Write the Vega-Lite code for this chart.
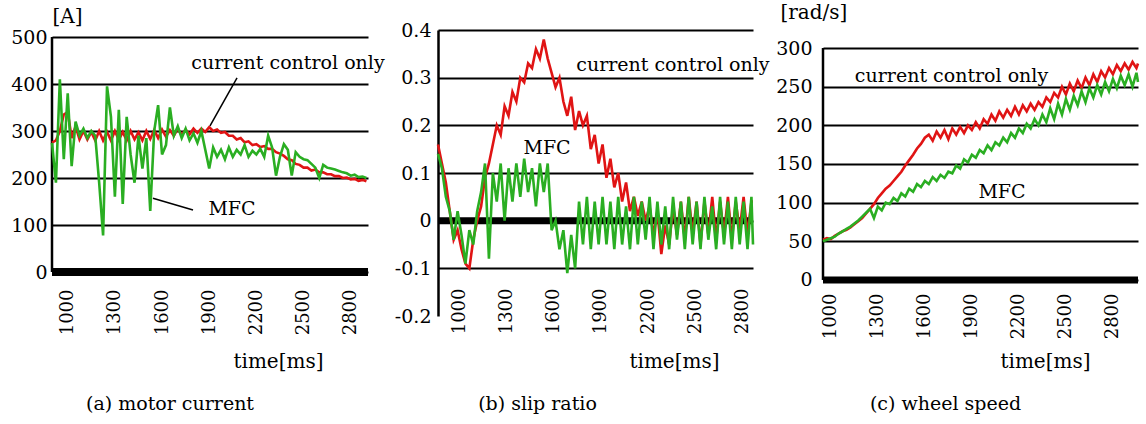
{
  "$schema": "https://vega.github.io/schema/vega-lite/v6.json",
  "autosize": {"type": "pad"},
  "padding": {"left": 10, "top": 2, "right": 8, "bottom": 2},
  "bounds": "flush",
  "spacing": 70,
  "datasets": {
    "current": [
      {"t":900,"cc":275,"mfc":275},{"t":925,"cc":280,"mfc":190},{"t":950,"cc":300,"mfc":410},{"t":975,"cc":335,"mfc":240},{"t":1000,"cc":340,"mfc":380},{"t":1025,"cc":285,"mfc":225},{"t":1050,"cc":310,"mfc":320},{"t":1075,"cc":282,"mfc":290},{"t":1100,"cc":300,"mfc":305},{"t":1125,"cc":282,"mfc":285},{"t":1150,"cc":298,"mfc":300},{"t":1175,"cc":280,"mfc":290},{"t":1200,"cc":300,"mfc":190},{"t":1225,"cc":280,"mfc":78},{"t":1250,"cc":298,"mfc":395},{"t":1275,"cc":280,"mfc":330},{"t":1300,"cc":300,"mfc":160},{"t":1325,"cc":281,"mfc":345},{"t":1350,"cc":298,"mfc":145},{"t":1375,"cc":280,"mfc":330},{"t":1400,"cc":300,"mfc":250},{"t":1425,"cc":282,"mfc":190},{"t":1450,"cc":297,"mfc":290},{"t":1475,"cc":280,"mfc":220},{"t":1500,"cc":300,"mfc":285},{"t":1525,"cc":283,"mfc":130},{"t":1550,"cc":302,"mfc":300},{"t":1575,"cc":285,"mfc":355},{"t":1600,"cc":303,"mfc":250},{"t":1625,"cc":288,"mfc":270},{"t":1650,"cc":302,"mfc":350},{"t":1675,"cc":290,"mfc":290},{"t":1700,"cc":305,"mfc":310},{"t":1725,"cc":292,"mfc":285},{"t":1750,"cc":303,"mfc":305},{"t":1775,"cc":293,"mfc":280},{"t":1800,"cc":305,"mfc":295},{"t":1825,"cc":296,"mfc":275},{"t":1850,"cc":305,"mfc":300},{"t":1875,"cc":298,"mfc":260},{"t":1900,"cc":308,"mfc":220},{"t":1925,"cc":300,"mfc":265},{"t":1950,"cc":303,"mfc":245},{"t":1975,"cc":296,"mfc":260},{"t":2000,"cc":298,"mfc":240},{"t":2025,"cc":290,"mfc":265},{"t":2050,"cc":290,"mfc":245},{"t":2075,"cc":282,"mfc":260},{"t":2100,"cc":285,"mfc":250},{"t":2125,"cc":276,"mfc":270},{"t":2150,"cc":278,"mfc":245},{"t":2175,"cc":270,"mfc":258},{"t":2200,"cc":272,"mfc":250},{"t":2225,"cc":266,"mfc":262},{"t":2250,"cc":268,"mfc":245},{"t":2275,"cc":262,"mfc":290},{"t":2300,"cc":262,"mfc":265},{"t":2325,"cc":255,"mfc":205},{"t":2350,"cc":252,"mfc":245},{"t":2375,"cc":247,"mfc":272},{"t":2400,"cc":240,"mfc":260},{"t":2425,"cc":238,"mfc":205},{"t":2450,"cc":230,"mfc":255},{"t":2475,"cc":228,"mfc":245},{"t":2500,"cc":222,"mfc":240},{"t":2525,"cc":222,"mfc":238},{"t":2550,"cc":216,"mfc":230},{"t":2575,"cc":218,"mfc":222},{"t":2600,"cc":212,"mfc":200},{"t":2625,"cc":212,"mfc":228},{"t":2650,"cc":208,"mfc":222},{"t":2675,"cc":208,"mfc":220},{"t":2700,"cc":204,"mfc":218},{"t":2725,"cc":204,"mfc":215},{"t":2750,"cc":200,"mfc":212},{"t":2775,"cc":201,"mfc":210},{"t":2800,"cc":197,"mfc":205},{"t":2825,"cc":198,"mfc":207},{"t":2850,"cc":194,"mfc":202},{"t":2875,"cc":196,"mfc":203},{"t":2900,"cc":193,"mfc":200}
    ],
    "slip": [
      {"t":860,"cc":0.16,"mfc":0.14},{"t":885,"cc":0.12,"mfc":0.11},{"t":910,"cc":0.08,"mfc":0.05},{"t":935,"cc":0.02,"mfc":0.02},{"t":960,"cc":-0.04,"mfc":-0.04},{"t":985,"cc":-0.02,"mfc":0.02},{"t":1010,"cc":-0.06,"mfc":-0.03},{"t":1035,"cc":-0.09,"mfc":-0.09},{"t":1060,"cc":-0.10,"mfc":-0.02},{"t":1085,"cc":-0.04,"mfc":-0.05},{"t":1110,"cc":0.0,"mfc":0.02},{"t":1135,"cc":0.03,"mfc":0.06},{"t":1160,"cc":0.09,"mfc":0.12},{"t":1185,"cc":0.12,"mfc":-0.08},{"t":1210,"cc":0.16,"mfc":0.10},{"t":1235,"cc":0.20,"mfc":0.04},{"t":1260,"cc":0.18,"mfc":0.12},{"t":1285,"cc":0.24,"mfc":0.0},{"t":1310,"cc":0.22,"mfc":0.11},{"t":1335,"cc":0.27,"mfc":0.04},{"t":1360,"cc":0.25,"mfc":0.12},{"t":1385,"cc":0.30,"mfc":0.05},{"t":1410,"cc":0.29,"mfc":0.13},{"t":1435,"cc":0.33,"mfc":0.06},{"t":1460,"cc":0.32,"mfc":0.11},{"t":1485,"cc":0.36,"mfc":0.03},{"t":1510,"cc":0.34,"mfc":0.12},{"t":1535,"cc":0.38,"mfc":0.06},{"t":1560,"cc":0.34,"mfc":0.12},{"t":1585,"cc":0.31,"mfc":-0.02},{"t":1610,"cc":0.28,"mfc":0.0},{"t":1635,"cc":0.30,"mfc":-0.06},{"t":1660,"cc":0.25,"mfc":-0.02},{"t":1685,"cc":0.22,"mfc":-0.11},{"t":1710,"cc":0.26,"mfc":-0.03},{"t":1735,"cc":0.19,"mfc":-0.10},{"t":1760,"cc":0.23,"mfc":0.04},{"t":1785,"cc":0.20,"mfc":-0.05},{"t":1810,"cc":0.22,"mfc":0.05},{"t":1835,"cc":0.15,"mfc":-0.06},{"t":1860,"cc":0.18,"mfc":0.04},{"t":1885,"cc":0.12,"mfc":-0.05},{"t":1910,"cc":0.16,"mfc":0.05},{"t":1935,"cc":0.09,"mfc":-0.05},{"t":1960,"cc":0.13,"mfc":0.04},{"t":1985,"cc":0.07,"mfc":-0.06},{"t":2010,"cc":0.10,"mfc":0.05},{"t":2035,"cc":0.04,"mfc":-0.05},{"t":2060,"cc":0.08,"mfc":0.03},{"t":2085,"cc":0.02,"mfc":-0.06},{"t":2110,"cc":0.05,"mfc":0.05},{"t":2135,"cc":0.01,"mfc":-0.05},{"t":2160,"cc":0.04,"mfc":0.04},{"t":2185,"cc":0.0,"mfc":-0.04},{"t":2210,"cc":0.03,"mfc":0.05},{"t":2235,"cc":-0.03,"mfc":-0.06},{"t":2260,"cc":0.02,"mfc":0.04},{"t":2285,"cc":-0.07,"mfc":-0.05},{"t":2310,"cc":-0.01,"mfc":0.03},{"t":2335,"cc":-0.05,"mfc":-0.06},{"t":2360,"cc":0.03,"mfc":0.05},{"t":2385,"cc":-0.03,"mfc":-0.04},{"t":2410,"cc":0.04,"mfc":0.04},{"t":2435,"cc":-0.04,"mfc":-0.06},{"t":2460,"cc":0.05,"mfc":0.05},{"t":2485,"cc":-0.03,"mfc":-0.05},{"t":2510,"cc":0.04,"mfc":0.04},{"t":2535,"cc":-0.05,"mfc":-0.06},{"t":2560,"cc":0.04,"mfc":0.05},{"t":2585,"cc":-0.03,"mfc":-0.04},{"t":2610,"cc":0.05,"mfc":0.03},{"t":2635,"cc":-0.04,"mfc":-0.06},{"t":2660,"cc":0.04,"mfc":0.05},{"t":2685,"cc":-0.03,"mfc":-0.05},{"t":2710,"cc":0.05,"mfc":0.04},{"t":2735,"cc":-0.04,"mfc":-0.06},{"t":2760,"cc":0.04,"mfc":0.05},{"t":2785,"cc":-0.02,"mfc":-0.05},{"t":2810,"cc":0.05,"mfc":0.04},{"t":2835,"cc":-0.03,"mfc":-0.06},{"t":2860,"cc":0.04,"mfc":0.05},{"t":2870,"cc":0.04,"mfc":-0.05}
    ],
    "speed": [
      {"t":950,"cc":52,"mfc":50},{"t":975,"cc":54,"mfc":52},{"t":1000,"cc":53,"mfc":54},{"t":1025,"cc":57,"mfc":56},{"t":1050,"cc":60,"mfc":60},{"t":1075,"cc":63,"mfc":63},{"t":1100,"cc":65,"mfc":66},{"t":1125,"cc":68,"mfc":69},{"t":1150,"cc":72,"mfc":73},{"t":1175,"cc":76,"mfc":77},{"t":1200,"cc":80,"mfc":82},{"t":1225,"cc":86,"mfc":87},{"t":1250,"cc":92,"mfc":92},{"t":1275,"cc":98,"mfc":80},{"t":1300,"cc":106,"mfc":95},{"t":1325,"cc":112,"mfc":90},{"t":1350,"cc":118,"mfc":100},{"t":1375,"cc":122,"mfc":98},{"t":1400,"cc":128,"mfc":106},{"t":1425,"cc":134,"mfc":102},{"t":1450,"cc":140,"mfc":112},{"t":1475,"cc":148,"mfc":108},{"t":1500,"cc":155,"mfc":118},{"t":1525,"cc":162,"mfc":114},{"t":1550,"cc":170,"mfc":124},{"t":1575,"cc":176,"mfc":120},{"t":1600,"cc":184,"mfc":128},{"t":1625,"cc":188,"mfc":124},{"t":1650,"cc":180,"mfc":133},{"t":1675,"cc":192,"mfc":128},{"t":1700,"cc":184,"mfc":136},{"t":1725,"cc":194,"mfc":132},{"t":1750,"cc":182,"mfc":140},{"t":1775,"cc":196,"mfc":138},{"t":1800,"cc":188,"mfc":148},{"t":1825,"cc":198,"mfc":144},{"t":1850,"cc":190,"mfc":156},{"t":1875,"cc":200,"mfc":152},{"t":1900,"cc":194,"mfc":162},{"t":1925,"cc":204,"mfc":158},{"t":1950,"cc":196,"mfc":168},{"t":1975,"cc":208,"mfc":164},{"t":2000,"cc":202,"mfc":174},{"t":2025,"cc":214,"mfc":168},{"t":2050,"cc":206,"mfc":178},{"t":2075,"cc":218,"mfc":174},{"t":2100,"cc":210,"mfc":184},{"t":2125,"cc":220,"mfc":178},{"t":2150,"cc":212,"mfc":190},{"t":2175,"cc":224,"mfc":184},{"t":2200,"cc":214,"mfc":196},{"t":2225,"cc":226,"mfc":190},{"t":2250,"cc":218,"mfc":202},{"t":2275,"cc":228,"mfc":196},{"t":2300,"cc":220,"mfc":208},{"t":2325,"cc":230,"mfc":200},{"t":2350,"cc":224,"mfc":214},{"t":2375,"cc":236,"mfc":204},{"t":2400,"cc":230,"mfc":222},{"t":2425,"cc":242,"mfc":208},{"t":2450,"cc":236,"mfc":228},{"t":2475,"cc":250,"mfc":214},{"t":2500,"cc":240,"mfc":234},{"t":2525,"cc":254,"mfc":220},{"t":2550,"cc":244,"mfc":238},{"t":2575,"cc":258,"mfc":226},{"t":2600,"cc":248,"mfc":244},{"t":2625,"cc":262,"mfc":230},{"t":2650,"cc":252,"mfc":248},{"t":2675,"cc":266,"mfc":236},{"t":2700,"cc":256,"mfc":252},{"t":2725,"cc":270,"mfc":240},{"t":2750,"cc":262,"mfc":256},{"t":2775,"cc":274,"mfc":244},{"t":2800,"cc":266,"mfc":260},{"t":2825,"cc":278,"mfc":248},{"t":2850,"cc":270,"mfc":264},{"t":2875,"cc":280,"mfc":252},{"t":2900,"cc":272,"mfc":266},{"t":2925,"cc":282,"mfc":250},{"t":2950,"cc":274,"mfc":268},{"t":2960,"cc":280,"mfc":256}
    ]
  },
  "hconcat": [
    {
      "width": 316,
      "height": 286,
      "title": {"text": "(a) motor current", "orient": "bottom", "anchor": "middle", "dx": -40, "offset": 24},
      "layer": [
        {
          "data": {"values": [{"v": 0}]},
          "mark": {"type": "rule", "color": "black", "strokeWidth": 8},
          "encoding": {"y": {"field": "v", "type": "quantitative"}}
        },
        {
          "data": {"values": [{"v": 0}]},
          "mark": {"type": "rule", "color": "black", "strokeWidth": 2.5},
          "encoding": {"x": {"datum": 900}, "y": {"field": "v", "type": "quantitative"}, "y2": {"datum": 500}}
        },
        {
          "data": {"name": "current"},
          "transform": [{"fold": ["cc", "mfc"], "as": ["s", "v"]}],
          "mark": {"type": "line", "strokeWidth": 2.6},
          "encoding": {
            "x": {"field": "t", "type": "quantitative", "scale": {"domain": [900, 2910], "nice": false, "zero": false},
                  "axis": {"values": [1000, 1300, 1600, 1900, 2200, 2500, 2800], "format": "d", "labelPadding": -27, "title": "time[ms]", "titleX": 226, "titleY": 51}},
            "y": {"field": "v", "type": "quantitative", "scale": {"domain": [-93.6, 514.9], "nice": false, "zero": false},
                  "axis": {"values": [0, 100, 200, 300, 400, 500], "format": "d", "domain": false, "labelPadding": 5, "title": "[A]", "titleX": 0, "titleY": -8}},
            "color": {"field": "s", "type": "nominal", "scale": {"domain": ["cc", "mfc"], "range": ["#e01414", "#2aae22"]}, "legend": null}
          }
        },
        {
          "data": {"values": [{"t": 2077, "v": 413, "t2": 1905, "v2": 311}, {"t": 1797, "v": 132, "t2": 1542, "v2": 157}]},
          "mark": {"type": "rule", "color": "black", "strokeWidth": 1.5},
          "encoding": {
            "x": {"field": "t", "type": "quantitative"},
            "y": {"field": "v", "type": "quantitative"},
            "x2": {"field": "t2"},
            "y2": {"field": "v2"}
          }
        },
        {
          "data": {"values": [{"t": 2401, "v": 432, "label": "current  control only"}, {"t": 2045, "v": 121, "label": "MFC"}]},
          "mark": {"type": "text", "font": "DejaVu Serif", "fontSize": 19, "align": "center", "baseline": "alphabetic", "color": "black"},
          "encoding": {
            "x": {"field": "t", "type": "quantitative"},
            "y": {"field": "v", "type": "quantitative"},
            "text": {"field": "label"}
          }
        }
      ]
    },
    {
      "width": 315,
      "height": 286,
      "title": {"text": "(b) slip ratio", "orient": "bottom", "anchor": "middle", "dx": -58, "offset": 24},
      "layer": [
        {
          "data": {"values": [{"v": 0}]},
          "mark": {"type": "rule", "color": "black", "strokeWidth": 7},
          "encoding": {"y": {"field": "v", "type": "quantitative"}}
        },
        {
          "data": {"name": "slip"},
          "transform": [{"fold": ["cc", "mfc"], "as": ["s", "v"]}],
          "mark": {"type": "line", "strokeWidth": 2.6},
          "encoding": {
            "x": {"field": "t", "type": "quantitative", "scale": {"domain": [860, 2870], "nice": false, "zero": false},
                  "axis": {"values": [1000, 1300, 1600, 1900, 2200, 2500, 2800], "format": "d", "labelPadding": -28, "title": "time[ms]", "titleX": 236, "titleY": 51}},
            "y": {"field": "v", "type": "quantitative", "scale": {"domain": [-0.2, 0.4], "nice": false, "zero": false},
                  "axis": {"values": [-0.2, -0.1, 0, 0.1, 0.2, 0.3, 0.4], "format": ".1~f", "labelExpr": "replace(datum.label, '\u2212', '-')", "labelPadding": 7, "title": null,
                           "gridOpacity": {"condition": {"test": "datum.value < -0.15", "value": 0}, "value": 1}}},
            "color": {"field": "s", "type": "nominal", "scale": {"domain": ["cc", "mfc"], "range": ["#e01414", "#2aae22"]}, "legend": null}
          }
        },
        {
          "data": {"values": [{"t": 2359, "v": 0.314, "label": "current control only"}, {"t": 1556, "v": 0.14, "label": "MFC"}]},
          "mark": {"type": "text", "font": "DejaVu Serif", "fontSize": 19, "align": "center", "baseline": "alphabetic", "color": "black"},
          "encoding": {
            "x": {"field": "t", "type": "quantitative"},
            "y": {"field": "v", "type": "quantitative"},
            "text": {"field": "label"}
          }
        }
      ]
    },
    {
      "width": 315,
      "height": 286,
      "title": {"text": "(c) wheel speed", "orient": "bottom", "anchor": "middle", "dx": -35, "offset": 24},
      "layer": [
        {
          "data": {"values": [{"v": 0}]},
          "mark": {"type": "rule", "color": "black", "strokeWidth": 7},
          "encoding": {"y": {"field": "v", "type": "quantitative"}}
        },
        {
          "data": {"values": [{"v": 0}]},
          "mark": {"type": "rule", "color": "black", "strokeWidth": 2.5},
          "encoding": {"x": {"datum": 950}, "y": {"field": "v", "type": "quantitative"}, "y2": {"datum": 300}}
        },
        {
          "data": {"name": "speed"},
          "transform": [{"fold": ["cc", "mfc"], "as": ["s", "v"]}],
          "mark": {"type": "line", "strokeWidth": 2.6},
          "encoding": {
            "x": {"field": "t", "type": "quantitative", "scale": {"domain": [950, 2960], "nice": false, "zero": false},
                  "axis": {"values": [1000, 1300, 1600, 1900, 2200, 2500, 2800], "format": "d", "labelPadding": -23, "title": "time[ms]", "titleX": 222, "titleY": 51}},
            "y": {"field": "v", "type": "quantitative", "scale": {"domain": [-46.6, 323.3], "nice": false, "zero": false},
                  "axis": {"values": [0, 50, 100, 150, 200, 250, 300], "format": "d", "domain": false, "labelPadding": 11, "title": "[rad/s]", "titleX": -43, "titleY": -12}},
            "color": {"field": "s", "type": "nominal", "scale": {"domain": ["cc", "mfc"], "range": ["#e01414", "#2aae22"]}, "legend": null}
          }
        },
        {
          "data": {"values": [{"t": 1770, "v": 256, "label": "current control only"}, {"t": 2092, "v": 106, "label": "MFC"}]},
          "mark": {"type": "text", "font": "DejaVu Serif", "fontSize": 19, "align": "center", "baseline": "alphabetic", "color": "black"},
          "encoding": {
            "x": {"field": "t", "type": "quantitative"},
            "y": {"field": "v", "type": "quantitative"},
            "text": {"field": "label"}
          }
        }
      ]
    }
  ],
  "config": {
    "font": "DejaVu Serif",
    "view": {"stroke": null},
    "axis": {
      "labelFont": "DejaVu Serif", "labelFontSize": 19, "labelColor": "black",
      "titleFont": "DejaVu Serif", "titleFontSize": 20, "titleFontWeight": "normal", "titleColor": "black",
      "ticks": false, "domainColor": "black", "domainWidth": 2.5,
      "gridColor": "black", "gridWidth": 2, "gridOpacity": 1,
      "labelOverlap": false, "labelFlush": false, "labelBound": false
    },
    "axisX": {"domain": false, "grid": false, "labelAngle": -90, "labelFontSize": 18, "titleAngle": 0, "titleAlign": "center", "titleBaseline": "alphabetic"},
    "axisY": {"grid": true, "titleAngle": 0, "titleAlign": "left", "titleBaseline": "alphabetic"},
    "title": {"font": "DejaVu Serif", "fontSize": 19, "fontWeight": "normal", "color": "black"}
  }
}
